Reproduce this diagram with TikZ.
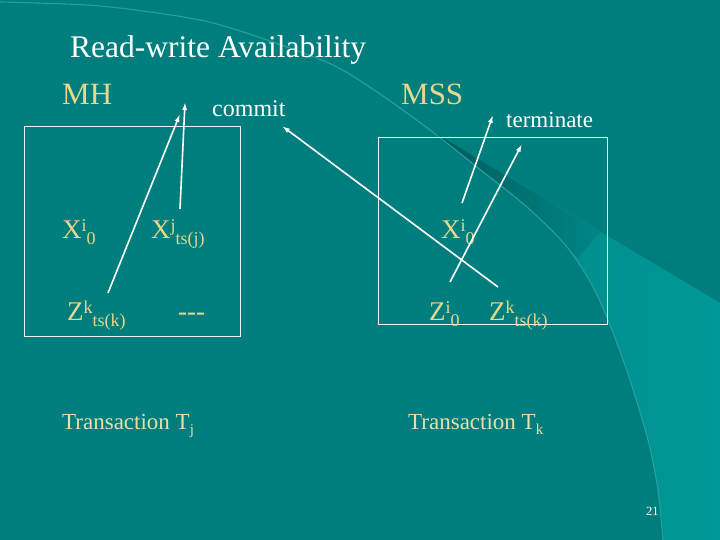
\documentclass[tikz,border=0pt]{standalone}
\usepackage{fontspec}
\setmainfont{Liberation Serif}
\usetikzlibrary{arrows.meta}
\definecolor{bgteal}{RGB}{0,126,126}
\definecolor{lightteal}{RGB}{0,134,134}
\definecolor{lighterteal}{RGB}{0,152,152}
\definecolor{shadowteal}{RGB}{0,88,90}
\definecolor{arcline}{RGB}{36,160,160}
\definecolor{gold}{RGB}{230,216,140}
\definecolor{pale}{RGB}{226,226,170}
\definecolor{boxline}{RGB}{232,244,244}
\newcommand{\MyVar}[3]{{\fontsize{27}{30}\selectfont #1}\raisebox{7pt}{\fontsize{18}{20}\selectfont #2}\raisebox{-6pt}{\fontsize{18}{20}\selectfont #3}}
\tikzset{
  lbl/.style={inner sep=0pt, anchor=base west},
  varlbl/.style={lbl, text=gold},
  headlbl/.style={lbl, text=gold, font=\fontsize{31}{36}\selectfont},
  whitelbl/.style={lbl, text=white, font=\fontsize{24}{28}\selectfont},
  translbl/.style={lbl, text=pale, font=\fontsize{23}{27}\selectfont},
  boxnode/.style={draw=boxline, line width=1pt, inner sep=0pt},
  arr/.style={draw=white, line width=1.6pt, -{Latex[length=8pt,width=5pt]}},
}
\begin{document}
\begin{tikzpicture}[x=1pt,y=-1pt]
\useasboundingbox (0,0) rectangle (720,540);
% background
\fill[bgteal] (0,0) rectangle (720,540);
\shade[left color=lightteal, right color=lighterteal]
  (430,130) -- (720,303) -- (720,540) -- (663,540)
  plot[smooth] coordinates {(663,540) (658,490) (648,440) (630,380) (612,330) (593,287) (567,247) (527,207) (477,167) (430,130)} -- cycle;
\shade[left color=shadowteal, right color=lightteal]
  (430,130) -- (600,232) -- (578,258)
  plot[smooth] coordinates {(578,258) (567,247) (527,207) (477,167) (430,130)} -- cycle;
\draw[arcline, line width=1.1pt] plot[smooth] coordinates {(0,2) (100,6) (200,20) (267,40) (333,65) (380,94) (430,130) (477,167) (527,207) (567,247) (593,287) (612,330) (630,380) (648,440) (658,490) (663,540)};

% title and headers
\node[lbl, text=white, font=\fontsize{31.5}{36}\selectfont] (title) at (70,58) {Read-write Availability};
\node[headlbl] (mh) at (62,105) {MH};
\node[headlbl] (mss) at (401,105) {MSS};
\node[whitelbl] (commit) at (212,117) {commit};
\node[whitelbl, font=\fontsize{23}{27}\selectfont] (terminate) at (506,128) {terminate};

% boxes
\node[boxnode, minimum width=216pt, minimum height=209pt] (mhbox) at (132,231.5) {};
\node[boxnode, minimum width=229pt, minimum height=186pt] (mssbox) at (492.5,231) {};

% MH contents
\node[varlbl] (xi0) at (62,238) {\MyVar{X}{i}{0}};
\node[varlbl] (xjts) at (151,238) {\MyVar{X}{j}{ts(j)}};
\node[varlbl] (zkts) at (67,320) {\MyVar{Z}{k}{ts(k)}};
\node[varlbl, font=\fontsize{27}{30}\selectfont] (dashes) at (178,320) {-{}-{}-};

% MSS contents
\node[varlbl] (mxi0) at (441,238) {\MyVar{X}{i}{0}};
\node[varlbl] (mzi0) at (429,320) {\MyVar{Z}{i}{0}};
\node[varlbl] (mzkts) at (489,320) {\MyVar{Z}{k}{ts(k)}};

% transactions
\node[translbl] (tj) at (62,429) {Transaction T\raisebox{-5pt}{\fontsize{15}{16}\selectfont j}};
\node[translbl] (tk) at (408,429) {Transaction T\raisebox{-5pt}{\fontsize{15}{16}\selectfont k}};

% page number
\node[lbl, text=white, font=\fontsize{12.5}{14}\selectfont] (pagenum) at (646,515) {21};

% arrow end points
\coordinate (a1s) at (108,293);
\coordinate (a1e) at (180,114);
\coordinate (a2s) at (180,209);
\coordinate (a2e) at (185,102);
\coordinate (a3s) at (498,287);
\coordinate (a3e) at (282,126);
\coordinate (a4s) at (462,203);
\coordinate (a4e) at (493,115);
\coordinate (a5s) at (450,282);
\coordinate (a5e) at (522,144);

\draw[arr] (a1s) -- (a1e);
\draw[arr] (a2s) -- (a2e);
\draw[arr] (a3s) -- (a3e);
\draw[arr] (a4s) -- (a4e);
\draw[arr] (a5s) -- (a5e);
\end{tikzpicture}
\end{document}
